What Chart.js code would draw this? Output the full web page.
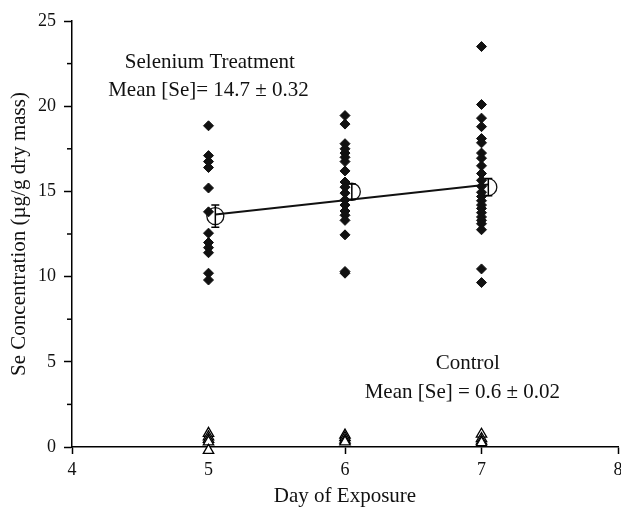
<!DOCTYPE html>
<html>
<head>
<meta charset="utf-8">
<script src="https://cdn.jsdelivr.net/npm/chart.js@4/dist/chart.umd.min.js"></script>
<style>
  html, body { margin: 0; padding: 0; background: #fff; }
  #wrap { width: 621px; height: 511px; }
</style>
</head>
<body>
<div id="wrap"><canvas id="myChart" width="621" height="511"></canvas></div>
<script>
// selenium treatment, individual fish per day
var days = [5, 6, 7];
var seDay5 = [18.85, 17.1, 16.75, 16.4, 15.2, 13.8, 12.55, 12.0, 11.7, 11.4, 10.2, 9.8];
var seDay6 = [19.45, 18.95, 17.8, 17.5, 17.25, 17.0, 16.75, 16.2, 15.55, 15.25, 14.9, 14.5, 14.2, 13.85, 13.6, 13.3, 12.45, 10.3, 10.2];
var seDay7 = [23.5, 20.1, 19.3, 18.8, 18.1, 17.85, 17.25, 16.95, 16.5, 16.05, 15.65, 15.3, 14.95, 14.7, 14.45, 14.2, 14.0, 13.75, 13.5, 13.3, 13.1, 12.75, 10.45, 9.65];

// control
var ctrlDay5 = [0.8, 0.6, 0.45, 0.3, -0.2];
var ctrlDay6 = [0.7, 0.55, 0.4, 0.3];
var ctrlDay7 = [0.75, 0.5, 0.35, 0.25];

// daily means +- se (plotted slightly right of the day)
var meanDays = [5.05, 6.05, 7.05];
var meanSe = [13.55, 14.98, 15.25];
var meanErr = [0.65, 0.45, 0.5];

// regression line
var fitX = [5.05, 7.05];
var fitY = [13.65, 15.4];

var notes = [
    { x: 5.01, y: 22.58, text: 'Selenium Treatment' },
    { x: 5.0, y: 20.94, text: 'Mean [Se]= 14.7 \u00b1 0.32' },
    { x: 6.9, y: 4.93, text: 'Control' },
    { x: 6.86, y: 3.17, text: 'Mean [Se] = 0.6 \u00b1 0.02' }
];

function pts(day, vals) {
    return vals.map(function (v) { return { x: day, y: v }; });
}

var seriesSe = [].concat(pts(days[0], seDay5), pts(days[1], seDay6), pts(days[2], seDay7));
var seriesCtrl = [].concat(pts(days[0], ctrlDay5), pts(days[1], ctrlDay6), pts(days[2], ctrlDay7));
var seriesMean = meanDays.map(function (d, i) { return { x: d, y: meanSe[i] }; });
var seriesFit = fitX.map(function (d, i) { return { x: d, y: fitY[i] }; });

var serif = "'Liberation Serif', 'Times New Roman', serif";
Chart.defaults.font.family = serif;
Chart.defaults.font.size = 21;
Chart.defaults.color = '#111';

var extras = {
    id: 'extras',
    beforeDatasetsDraw: function (chart) {
        var ctx = chart.ctx, x = chart.scales.x, y = chart.scales.y;
        // minor ticks on y
        ctx.save();
        ctx.strokeStyle = '#000';
        ctx.lineWidth = 1.5;
        for (var v = 2.5; v < 25; v += 5) {
            var py = y.getPixelForValue(v);
            ctx.beginPath();
            ctx.moveTo(x.left - 5, py);
            ctx.lineTo(x.left, py);
            ctx.stroke();
        }
        ctx.restore();
    },
    afterDatasetDraw: function (chart, args) {
        // error bars go on top of the line, under the circles
        if (args.index !== 2) return;
        var ctx = chart.ctx, x = chart.scales.x, y = chart.scales.y;
        ctx.save();
        ctx.strokeStyle = '#000';
        ctx.lineWidth = 1.5;
        meanDays.forEach(function (d, i) {
            var px = x.getPixelForValue(d);
            var top = y.getPixelForValue(meanSe[i] + meanErr[i]);
            var bot = y.getPixelForValue(meanSe[i] - meanErr[i]);
            ctx.beginPath();
            ctx.moveTo(px, top); ctx.lineTo(px, bot);
            ctx.moveTo(px - 4, top); ctx.lineTo(px + 4, top);
            ctx.moveTo(px - 4, bot); ctx.lineTo(px + 4, bot);
            ctx.stroke();
        });
        ctx.restore();
    },
    afterDraw: function (chart) {
        var ctx = chart.ctx, x = chart.scales.x, y = chart.scales.y;
        ctx.save();
        ctx.fillStyle = '#111';
        ctx.font = '21px ' + serif;
        ctx.textAlign = 'center';
        ctx.textBaseline = 'middle';
        notes.forEach(function (n) {
            ctx.fillText(n.text, x.getPixelForValue(n.x), y.getPixelForValue(n.y));
        });
        ctx.restore();
    }
};

new Chart(
    document.getElementById('myChart').getContext('2d'), {
        type: 'scatter',
        data: {
            datasets: [{
                label: 'Control',
                data: seriesCtrl,
                pointStyle: 'triangle',
                pointRadius: 6,
                backgroundColor: '#fff',
                borderColor: '#000',
                borderWidth: 1.3,
                clip: false
            }, {
                label: 'Selenium',
                data: seriesSe,
                pointStyle: 'rectRot',
                pointRadius: 5,
                backgroundColor: '#111',
                borderColor: '#111',
                borderWidth: 1
            }, {
                label: 'Fit',
                type: 'line',
                data: seriesFit,
                borderColor: '#111',
                borderWidth: 2,
                pointRadius: 0,
                fill: false
            }, {
                label: 'Mean',
                data: seriesMean,
                pointStyle: 'circle',
                pointRadius: 8.5,
                backgroundColor: '#fff',
                borderColor: '#111',
                borderWidth: 1.3
            }]
        },
        options: {
            responsive: false,
            animation: false,
            layout: {
                autoPadding: false,
                padding: { top: 21, right: 3, left: 0, bottom: 0 }
            },
            plugins: {
                legend: { display: false },
                tooltip: { enabled: false }
            },
            scales: {
                x: {
                    type: 'linear',
                    min: 4,
                    max: 8,
                    ticks: { stepSize: 1, padding: 5, color: '#111', font: { size: 18 } },
                    grid: { drawOnChartArea: false, tickLength: 7, tickColor: '#000', tickWidth: 1.5 },
                    border: { display: true, color: '#000', width: 1.5 },
                    title: { display: true, text: 'Day of Exposure', color: '#111', padding: { bottom: 2 } },
                    afterFit: function (scale) {
                        scale.height = 64;
                        scale.paddingRight = 0;
                        scale.paddingLeft = 0;
                    }
                },
                y: {
                    type: 'linear',
                    min: 0,
                    max: 25,
                    ticks: { stepSize: 5, padding: 8, color: '#111', font: { size: 18 } },
                    grid: { drawOnChartArea: false, tickLength: 8, tickColor: '#000', tickWidth: 1.5 },
                    border: { display: true, color: '#000', width: 1.5 },
                    title: { display: true, text: 'Se Concentration (\u00b5g/g dry mass)', color: '#111', padding: { top: 7 } },
                    afterFit: function (scale) { scale.width = 72; }
                }
            }
        },
        plugins: [extras]
    }
);
</script>
</body>
</html>
